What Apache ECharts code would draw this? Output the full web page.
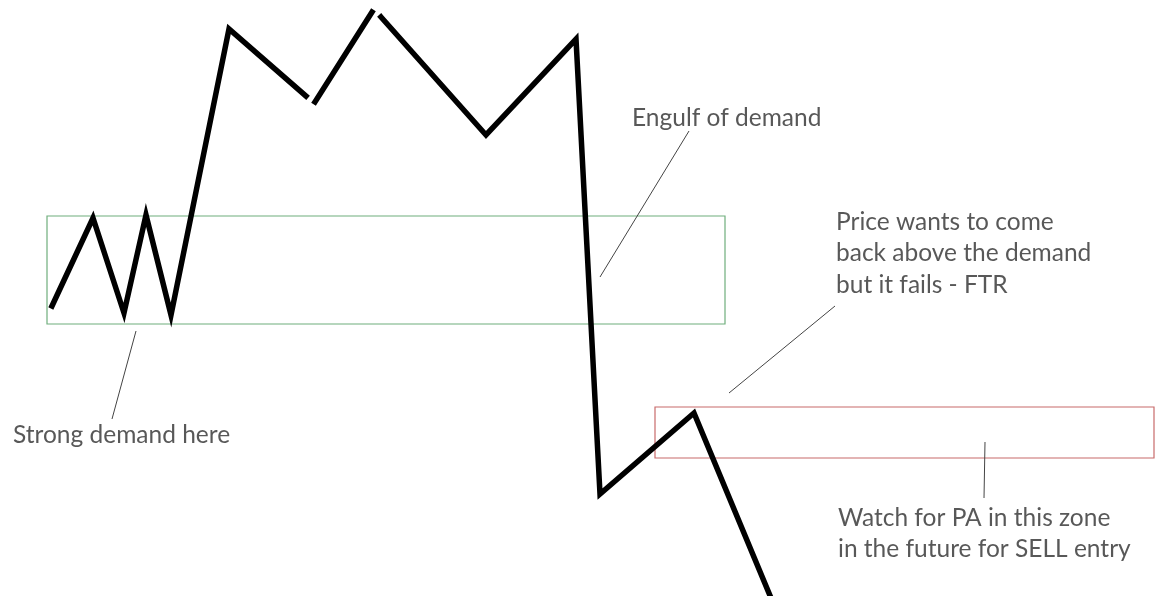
<!DOCTYPE html>
<html>
<head>
<meta charset="utf-8">
<script src="https://cdn.jsdelivr.net/npm/echarts@6/dist/echarts.min.js"></script>
<style>
  html, body { margin: 0; padding: 0; background: #fff; }
  #chart { width: 1155px; height: 596px; }
</style>
</head>
<body>
<div id="chart"></div>
<script>
// price path, in pieces (the pen left small gaps at two turns)
const priceX = [[52, 93, 124, 146, 171, 229, 306], [315, 372], [381, 486, 576, 600, 694, 771]]
const priceY = [[306, 218, 313, 215, 315, 29, 96], [102, 12], [17, 135, 39, 494, 413, 598]]

// zones: x0, y0, x1, y1
const demandZone = [47, 216, 725, 324]
const sellZone = [655, 407, 1154, 458]

// thin pointer lines from the notes
const pointerX = [[136, 112], [689, 600], [835, 729], [985, 984]]
const pointerY = [[331, 419], [131, 277], [306, 393], [442, 498]]

const noteText = [
  'Strong demand here',
  'Engulf of demand',
  'Price wants to come',
  'back above the demand',
  'but it fails - FTR',
  'Watch for PA in this zone',
  'in the future for SELL entry'
]
const noteX = [13, 632, 836, 836, 836, 838, 838]
const noteY = [435, 118, 222, 253, 285, 518, 549]

const zip = (xs, ys) => xs.map((x, i) => [x, ys[i]])

const chart = echarts.init(document.getElementById('chart'))

const series = []

// zones as mark areas
series.push({
  type: 'line',
  data: [],
  silent: true,
  markArea: {
    silent: true,
    data: [
      [{ coord: [demandZone[0], demandZone[1]], itemStyle: { color: 'transparent', borderColor: '#6fae7c', borderWidth: 1.2 } },
        { coord: [demandZone[2], demandZone[3]] }],
      [{ coord: [sellZone[0], sellZone[1]], itemStyle: { color: 'transparent', borderColor: '#c86b6b', borderWidth: 1.2 } },
        { coord: [sellZone[2], sellZone[3]] }]
    ]
  }
})

pointerX.forEach((xs, i) => {
  series.push({
    type: 'line',
    data: zip(xs, pointerY[i]),
    symbol: 'none',
    silent: true,
    lineStyle: { color: '#444', width: 1 }
  })
})

priceX.forEach((xs, i) => {
  series.push({
    type: 'line',
    data: zip(xs, priceY[i]),
    symbol: 'none',
    silent: true,
    z: 5,
    lineStyle: { color: '#000', width: 5.5, cap: 'square', join: 'miter' }
  })
})

series.push({
  type: 'scatter',
  symbolSize: 0,
  silent: true,
  data: noteText.map((t, i) => ({ value: [noteX[i], noteY[i]], name: t })),
  label: {
    show: true,
    position: [0, 0],
    align: 'left',
    verticalAlign: 'middle',
    formatter: p => p.name,
    fontFamily: 'Lato',
    fontSize: 24.5,
    color: '#2e2e2e'
  }
})

chart.setOption({
  animation: false,
  grid: { left: 0, right: 0, top: 0, bottom: 0 },
  xAxis: { type: 'value', min: 0, max: 1155, show: false },
  yAxis: { type: 'value', min: 0, max: 596, inverse: true, show: false },
  series: series
})
</script>
</body>
</html>
